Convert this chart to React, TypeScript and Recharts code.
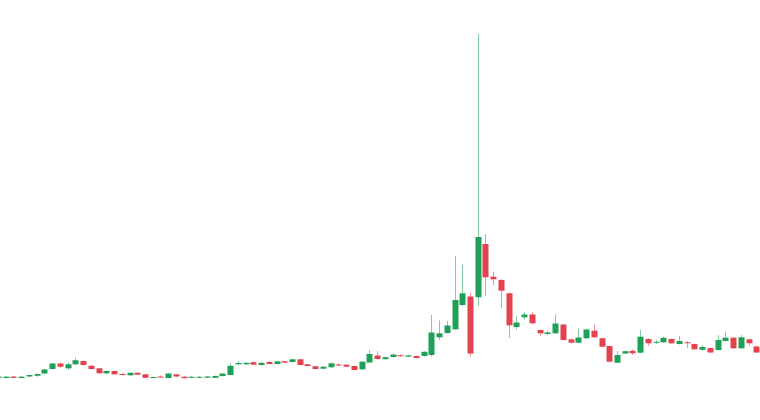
import React from 'react';
import { ComposedChart, Bar, XAxis, YAxis } from 'recharts';

// OHLC values (oldest to newest)
const opens = [
  42.2, 42, 43.5, 42, 43.5, 44.2, 46.5, 51, 56.5, 51.7,
  55.7, 59, 54.3, 51.7, 46.7, 49, 46, 44.7, 47.3, 45.7,
  42, 43.5, 42, 45.7, 43.3, 42.2, 42.5, 42.3, 42.2, 44,
  45, 55.7, 55.7, 57.8, 55, 58, 56, 58.7, 58, 60.7,
  55.7, 53.7, 51.3, 52.7, 55.5, 55.3, 54, 50.7, 57.5, 64.5,
  60.8, 63, 64.8, 63.3, 64, 64, 65, 82.7, 87, 90.7,
  115, 123.5, 122.7, 176, 143.3, 140, 126.7, 93, 102.7, 105.5,
  90, 86, 86.7, 95.5, 80.7, 77.3, 81.7, 89.3, 81.7, 74,
  57.3, 66.5, 69.2, 67.3, 81, 77.3, 77.7, 81, 76, 77.7,
  76, 70.2, 72, 70, 79, 82.3, 71.7, 80.7, 73.5,
];
const highs = [
  44, 44, 44, 43.8, 45.5, 46.5, 51, 57, 57.5, 57.7,
  62.3, 59.5, 55, 52, 49.5, 49.5, 47, 47.7, 47.8, 46,
  43.5, 44.5, 47, 46, 43.7, 43.8, 43.8, 44, 44.5, 47,
  56.7, 59, 58, 58.5, 57.7, 59.3, 59.2, 59.2, 61.2, 61.2,
  56.2, 54.2, 53.8, 57.2, 56.5, 55.8, 54.5, 58.8, 70, 69,
  63.3, 66.7, 65.3, 65.2, 64.5, 69, 105, 99.5, 99, 164,
  155, 127.7, 386, 186, 148.3, 141, 127.5, 103.7, 107.7, 107.7,
  90.5, 89, 105.7, 96, 81.2, 91.7, 91, 95.7, 82.2, 74.5,
  69, 69.5, 70.7, 90, 81.5, 80, 83.3, 81.5, 84, 79,
  76.5, 75, 72.5, 85, 88.5, 82.8, 85, 81.2, 74,
];
const lows = [
  41.5, 41.5, 41.5, 41.5, 43, 43.5, 46, 50.5, 52, 50,
  55, 54.5, 50.5, 46.2, 45.7, 45.2, 44.5, 44.2, 44.8, 41.7,
  41.5, 42, 41.5, 43, 41.4, 41.8, 41.8, 41.8, 41.8, 43.5,
  44.5, 55.2, 55.2, 54.8, 54.5, 55.5, 55.5, 56.8, 57.5, 54.5,
  53.5, 50.5, 50.8, 52.2, 54, 52.8, 49.5, 50.2, 57, 60.5,
  60.3, 62.5, 63.2, 62.8, 61.5, 63.5, 63.3, 80, 86.5, 90.2,
  114, 63.5, 114, 124, 135, 112, 82, 90.2, 100.7, 96,
  84, 84.7, 86, 79.5, 76.8, 76.8, 81.2, 82.2, 72.8, 57.8,
  56.8, 66, 65, 66.8, 74, 75.7, 77.2, 76.2, 75.5, 72,
  70.2, 69.7, 67, 69.5, 78.5, 71.2, 71.2, 74, 67,
];
const closes = [
  43.4, 43.3, 42.2, 43.3, 45, 46, 50.5, 56.5, 53.3, 55.7,
  59.8, 55, 51, 46.7, 49, 45.7, 45.3, 47.2, 45.3, 42.2,
  43, 42.8, 46.5, 43.5, 41.8, 43.3, 43.2, 43.5, 44, 46.5,
  54.2, 57, 57.2, 55.3, 57.2, 56, 58.7, 57.3, 60.7, 55,
  54, 51, 53.3, 56.7, 54.8, 53.3, 50, 58.3, 66, 61,
  62.8, 65.4, 63.8, 64.6, 62, 68.2, 87.5, 86.7, 94.5, 120,
  126.7, 66.5, 183, 142.7, 140.7, 129.3, 94.7, 97.5, 105.5, 96.7,
  86.7, 87.6, 96.5, 80, 77.3, 82.5, 90.5, 82.7, 73.3, 58.3,
  65, 68.8, 66.7, 83.3, 76.7, 78.2, 82.2, 76.7, 79, 76.7,
  70.7, 73, 67.5, 80, 82.3, 71.7, 82.7, 76.7, 67.5,
];

const UP = '#1f9f57';
const DOWN = '#e3424f';

const data = opens.map((o, i) => ({
  i,
  open: o,
  high: highs[i],
  low: lows[i],
  close: closes[i],
}));

function Candle(props: any) {
  const { x, y, width, height, payload } = props;
  if (!payload) return null;
  const { open, close, high, low } = payload;
  const range = high - low || 1;
  const ratio = height / range;
  const up = close >= open;
  const color = up ? UP : DOWN;
  const cx = Math.round(x + width / 2) + 0.5;
  const top = y + (high - Math.max(open, close)) * ratio;
  const bottom = y + (high - Math.min(open, close)) * ratio;
  const bodyH = Math.max(1, bottom - top);
  const bw = 6;
  return (
    <g>
      <line x1={cx} x2={cx} y1={y} y2={y + height} stroke={color} strokeOpacity={0.55} strokeWidth={1} />
      <rect x={cx - bw / 2} y={top} width={bw} height={bodyH} fill={color} />
    </g>
  );
}

export default function App() {
  return (
    <div style={{ position: 'absolute', left: -6, top: 0, width: 766, height: 420, background: '#fff' }}>
      <ComposedChart
        width={766}
        height={420}
        data={data}
        margin={{ top: 0, right: 0, bottom: 0, left: 0 }}
        barCategoryGap={0}
      >
        <XAxis dataKey="i" type="category" hide />
        <YAxis type="number" domain={[0, 420]} hide />
        <Bar
          dataKey={(d: any) => [d.low, d.high]}
          shape={<Candle />}
          isAnimationActive={false}
        />
      </ComposedChart>
    </div>
  );
}
